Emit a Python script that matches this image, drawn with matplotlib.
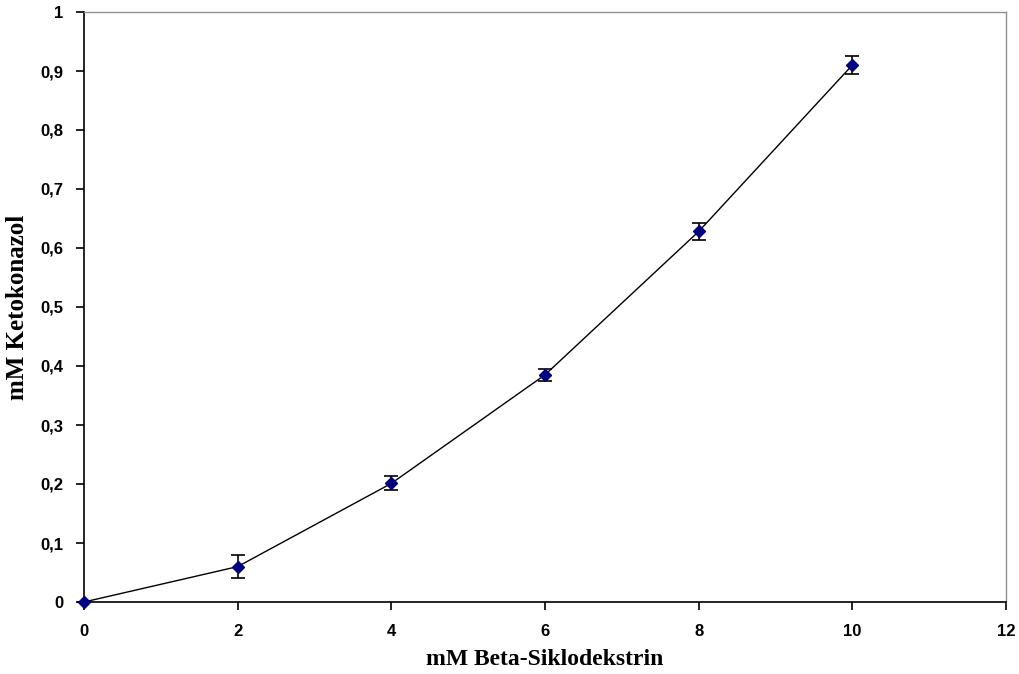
import matplotlib
matplotlib.use("Agg")
import matplotlib.pyplot as plt
from matplotlib.ticker import MultipleLocator, FuncFormatter

# Phase-solubility data: ketoconazole vs beta-cyclodextrin
beta_cd = [0, 2, 4, 6, 8, 10]
ketokonazol = [0.0, 0.060, 0.201, 0.385, 0.628, 0.910]
std_err = [0.0, 0.019, 0.012, 0.010, 0.014, 0.015]

fig = plt.figure(figsize=(10.2, 6.74), dpi=100)
ax = fig.add_axes([84 / 1020, 72 / 674, 922 / 1020, 590 / 674])

eb = ax.errorbar(beta_cd, ketokonazol, yerr=std_err, color="black", lw=1.0,
                 ecolor="black", elinewidth=1.2, capsize=5, capthick=1.2,
                 marker="D", markersize=6, markerfacecolor="#000080",
                 markeredgecolor="#000080", zorder=3)
for artist in eb.lines[0:1] + tuple(eb.lines[1]) + tuple(eb.lines[2]):
    artist.set_clip_on(False)

ax.set_xlim(0, 12)
ax.set_ylim(0, 1)
ax.xaxis.set_major_locator(MultipleLocator(2))
ax.yaxis.set_major_locator(MultipleLocator(0.1))

def comma_fmt(v, pos):
    s = f"{v:.1f}".rstrip("0").rstrip(".")
    return s.replace(".", ",")

ax.yaxis.set_major_formatter(FuncFormatter(comma_fmt))
ax.xaxis.set_major_formatter(FuncFormatter(lambda v, p: f"{int(round(v))}"))

for side in ("top", "right"):
    ax.spines[side].set_color("#909090")
    ax.spines[side].set_linewidth(1.0)
for side in ("left", "bottom"):
    ax.spines[side].set_color("black")
    ax.spines[side].set_linewidth(1.2)

ax.tick_params(direction="out", length=6, width=1.2)
ax.tick_params(axis="x", pad=10)
ax.tick_params(axis="y", pad=9)
for lab in ax.get_xticklabels() + ax.get_yticklabels():
    lab.set_fontfamily("Liberation Sans")
    lab.set_fontweight("bold")
    lab.set_fontsize(12)

ax.set_xlabel("mM Beta-Siklodekstrin", family="Liberation Serif",
              fontweight="bold", fontsize=17, labelpad=7)
ax.set_ylabel("mM Ketokonazol", family="Liberation Serif",
              fontweight="bold", fontsize=18, labelpad=8)

fig.savefig("out.png", dpi=100)
